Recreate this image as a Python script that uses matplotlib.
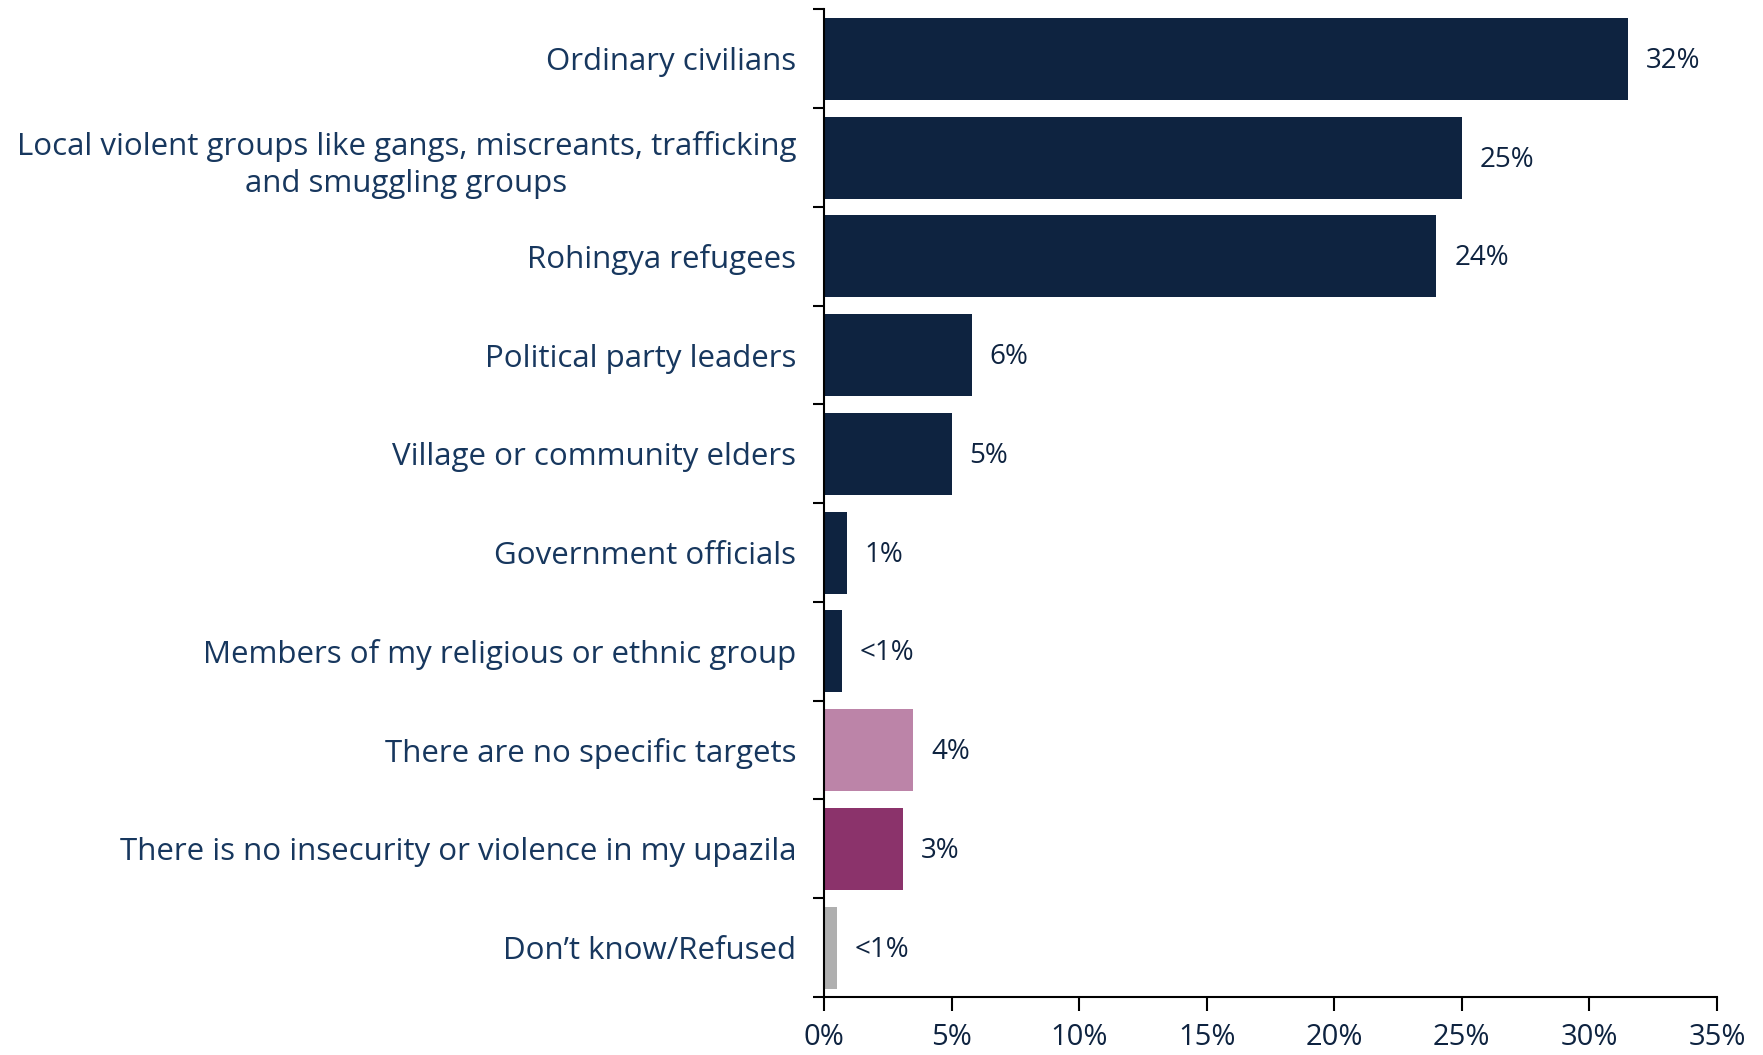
import matplotlib
matplotlib.use('Agg')
import matplotlib.pyplot as plt
import numpy as np

categories = ['Ordinary civilians',
              'Local violent groups like gangs, miscreants, trafficking\nand smuggling groups',
              'Rohingya refugees',
              'Political party leaders',
              'Village or community elders',
              'Government officials',
              'Members of my religious or ethnic group',
              'There are no specific targets',
              'There is no insecurity or violence in my upazila',
              "Don\u2019t know/Refused"]
values = [31.5, 25.0, 24.0, 5.8, 5.0, 0.9, 0.7, 3.5, 3.1, 0.5]
labels = ['32%', '25%', '24%', '6%', '5%', '1%', '<1%', '4%', '3%', '<1%']
navy = '#0E2340'
colors = [navy] * 7 + ['#BC84A8', '#8B336B', '#AFAFAF']
xticks = [0, 5, 10, 15, 20, 25, 30, 35]

plt.rcParams['font.family'] = ['Open Sans', 'DejaVu Sans']

fig = plt.figure(figsize=(17.63, 10.55), dpi=100)
ax = fig.add_axes([0.4674, 0.055, 0.5065, 0.936])

y = np.arange(len(categories))
ax.barh(y, values, height=0.83, color=colors)
for yi, v, lab in zip(y, values, labels):
    ax.text(v + 0.7, yi + 0.02, lab, va='center', ha='left', fontsize=20, color=navy)

ax.set_ylim(len(categories) - 0.5, -0.5)
ax.set_xlim(0, 35)
ax.set_yticks(y)
ax.set_yticklabels(categories, fontsize=22.5, color='#17375E', ha='right',
                   multialignment='center', linespacing=1.3)
ax.tick_params(axis='y', which='major', length=0, pad=20)
ax.set_yticks(np.arange(-0.5, len(categories)), minor=True)
ax.tick_params(axis='y', which='minor', length=8, width=1.5)
ax.set_xticks(xticks)
ax.set_xticklabels([f'{t}%' for t in xticks], fontsize=21, color=navy)
ax.tick_params(axis='x', length=10, width=1.5, pad=9)

for s in ['top', 'right']:
    ax.spines[s].set_visible(False)
ax.spines['left'].set_linewidth(1.5)
ax.spines['bottom'].set_linewidth(1.5)

fig.savefig('out.png', dpi=100)
